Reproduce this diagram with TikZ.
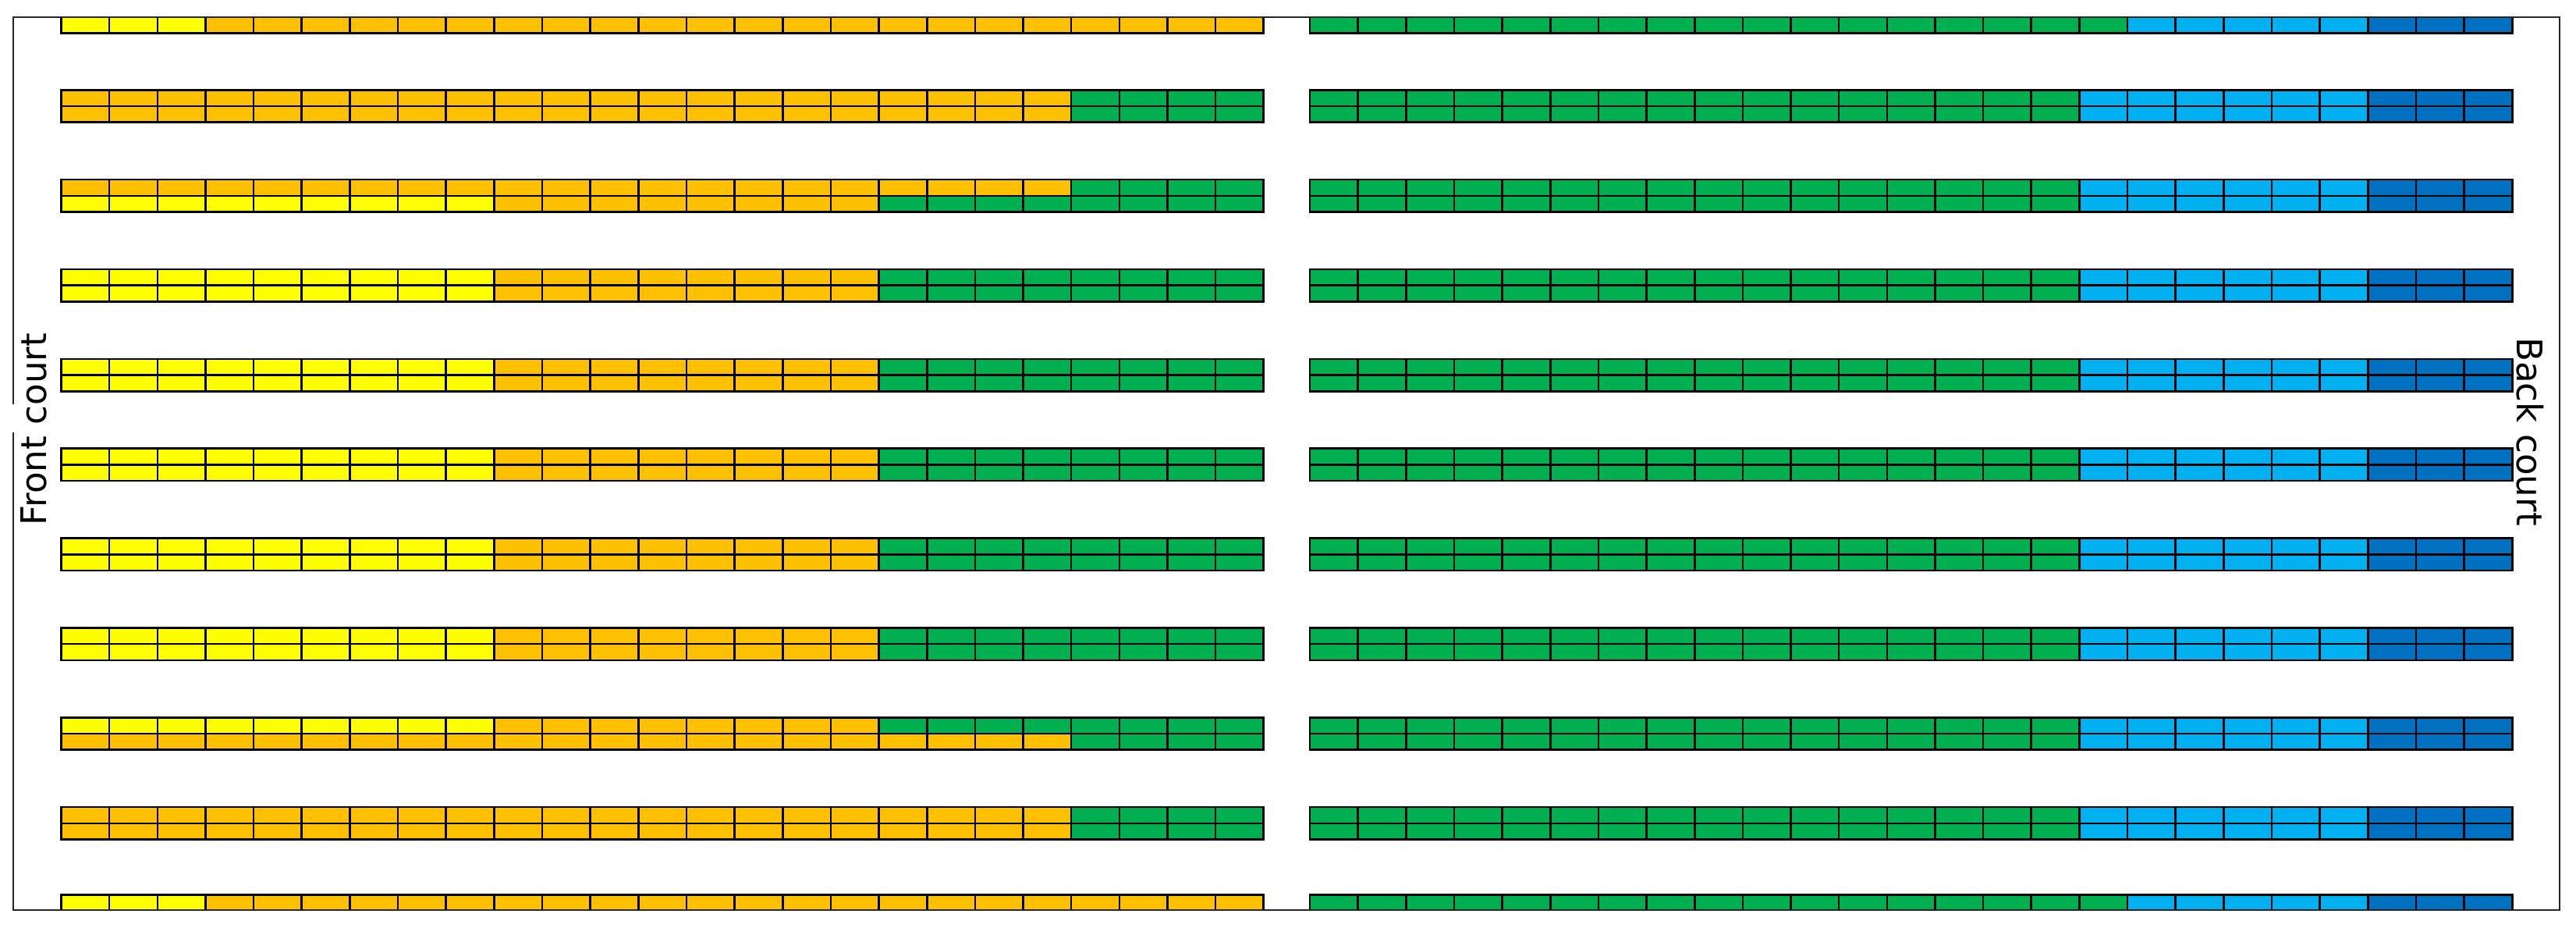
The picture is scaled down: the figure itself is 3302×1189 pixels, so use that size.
\documentclass[tikz,border=0pt]{standalone}
\usepackage{fontspec}
\setmainfont{DejaVu Sans}
\definecolor{cy}{HTML}{FFFF00}
\definecolor{co}{HTML}{FFC000}
\definecolor{cg}{HTML}{00B050}
\definecolor{clb}{HTML}{00B0F0}
\definecolor{cdb}{HTML}{0070C0}
\tikzset{
  cellbox/.style={draw=black, line width=0.65pt},
  frameline/.style={draw=black!85, line width=0.7pt},
  courtlabel/.style={font=\fontsize{11.3}{13}\selectfont, inner sep=0pt}
}
\def\XL{78.5}
\def\XR{1679}
\def\CW{61.65}
\def\HH{20.7}
% x0, ytop, height, from, to, colour
\newcommand\seats[6]{%
  \foreach \i in {#4,...,#5}{%
    \path[cellbox, fill=#6] ({#1+\i*\CW},{#2}) rectangle ({#1+(\i+1)*\CW},{#2+#3});}}
\newcommand\patA[1]{\seats{\XL}{#1}{\HH}{0}{8}{cy}\seats{\XL}{#1}{\HH}{9}{16}{co}\seats{\XL}{#1}{\HH}{17}{24}{cg}}
\newcommand\patB[1]{\seats{\XL}{#1}{\HH}{0}{20}{co}\seats{\XL}{#1}{\HH}{21}{24}{cg}}
\newcommand\patR[1]{\seats{\XR}{#1}{\HH}{0}{15}{cg}\seats{\XR}{#1}{\HH}{16}{21}{clb}\seats{\XR}{#1}{\HH}{22}{24}{cdb}}
\newcommand\patEndL[2]{\seats{\XL}{#1}{#2}{0}{2}{cy}\seats{\XL}{#1}{#2}{3}{24}{co}}
\newcommand\patEndR[2]{\seats{\XR}{#1}{#2}{0}{16}{cg}\seats{\XR}{#1}{#2}{17}{21}{clb}\seats{\XR}{#1}{#2}{22}{24}{cdb}}
\begin{document}
\begin{tikzpicture}[x=0.25pt, y=-0.25pt]
  \useasboundingbox (0,0) rectangle (3302,1189);
  % top (front-most) partial row
  \patEndL{22}{20.5}
  \patEndR{22}{20.5}
  % double rows
  \foreach \k/\pp/\qq in {0/B/B,1/B/A,2/A/A,3/A/A,4/A/A,5/A/A,6/A/A,7/A/B,8/B/B}{
    \pgfmathsetmacro\yt{115.3+\k*114.85}
    \pgfmathsetmacro\ym{\yt+\HH}
    \csname pat\pp\endcsname{\yt}
    \csname pat\qq\endcsname{\ym}
    \patR{\yt}
    \patR{\ym}
  }
  % bottom partial row
  \patEndL{1146.5}{19.5}
  \patEndR{1146.5}{19.5}
  % frame
  \coordinate (gapTop) at (17,518);
  \coordinate (tl) at (17,22);
  \coordinate (tr) at (3281,22);
  \coordinate (br) at (3281,1166);
  \coordinate (bl) at (17,1166);
  \coordinate (gapBot) at (17,554);
  \draw[frameline, line join=miter] (gapTop) -- (tl) -- (tr) -- (br) -- (bl) -- (gapBot);
  % labels
  \node[courtlabel, rotate=90] (front) at (43.5,550) {Front court};
  \node[courtlabel, rotate=-90] (back) at (3243.5,553) {Back court};
\end{tikzpicture}
\end{document}
